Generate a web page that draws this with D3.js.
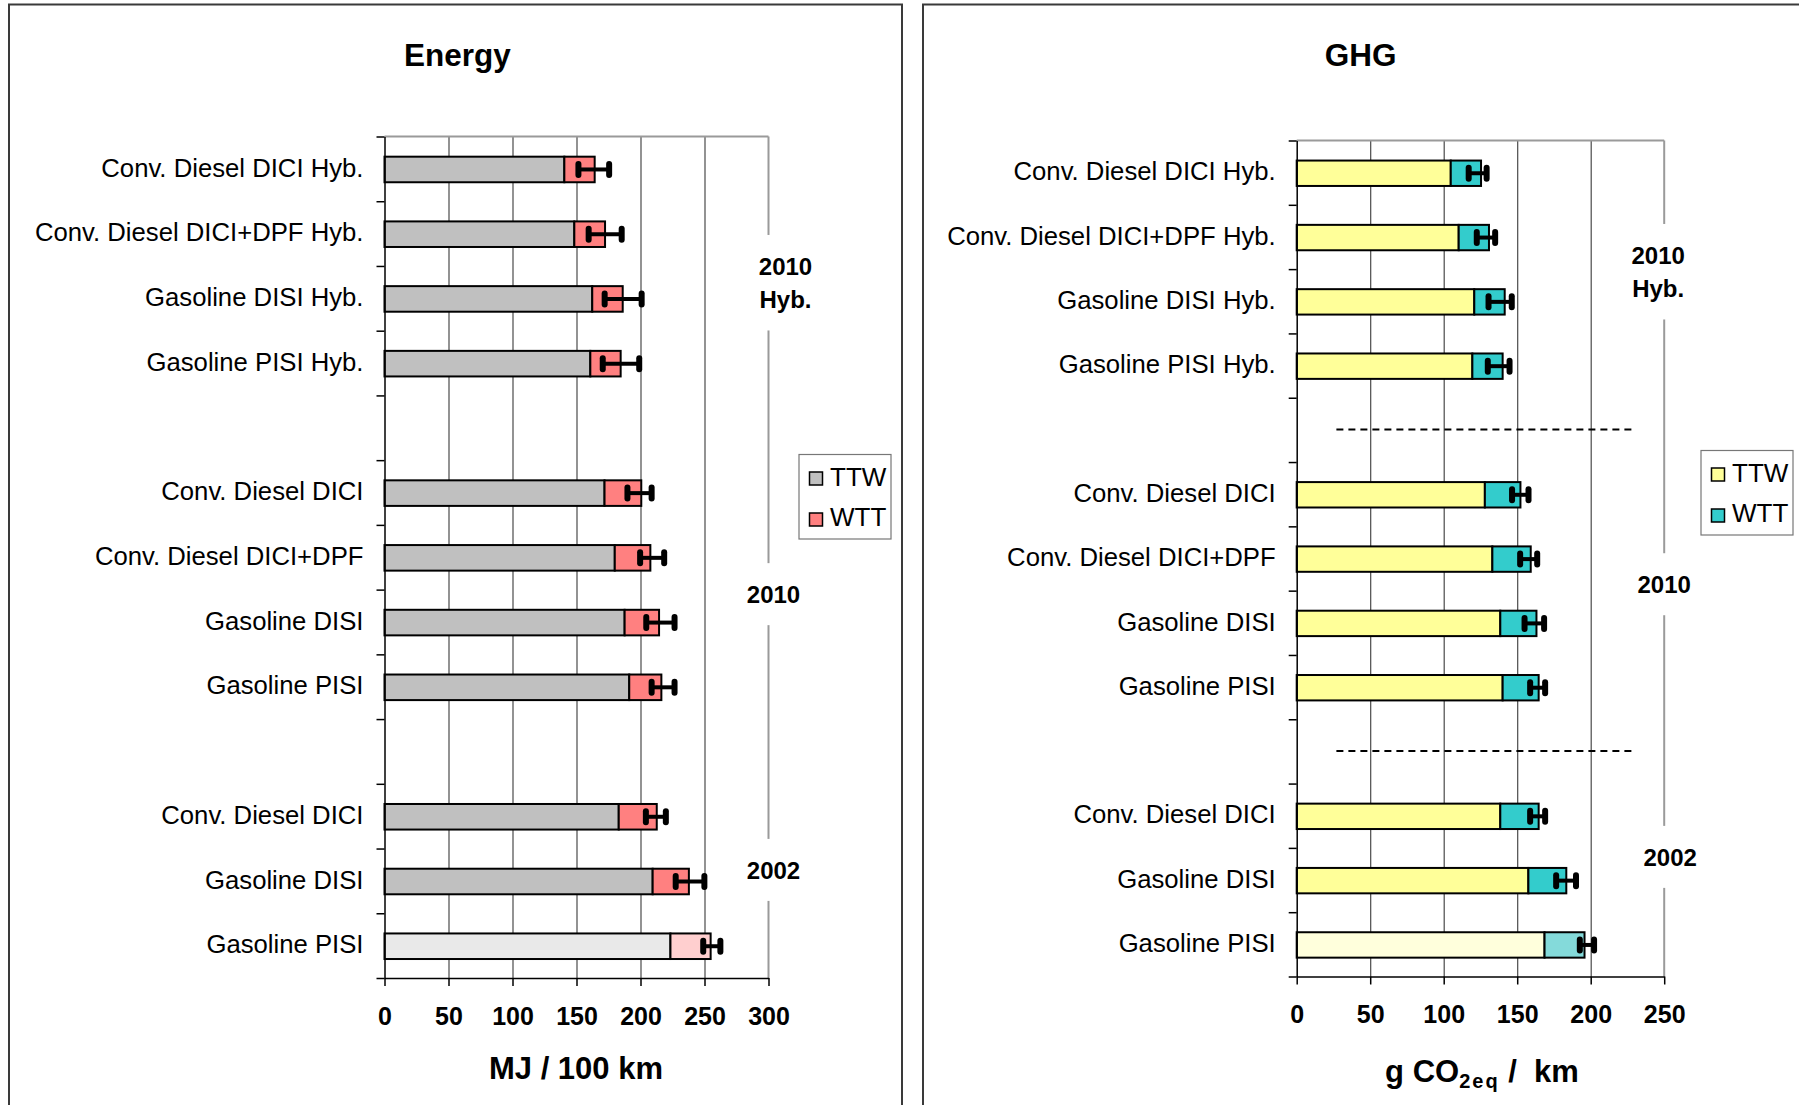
<!DOCTYPE html>
<meta charset="utf-8">
<style>
  body { margin: 0; background: #fff; }
  svg text { font-family: "Liberation Sans", Arial, sans-serif; fill: #000; }
  .cat text { font-size: 25.7px; }
  .xaxis text { font-size: 25px; font-weight: bold; }
  .title { font-size: 31.5px; font-weight: bold; }
  .xlabel { font-size: 31px; font-weight: bold; white-space: pre; }
  .group { font-size: 24px; font-weight: bold; }
  .legend text { font-size: 26px; }
</style>

<svg id="chart" width="1799" height="1105"></svg>

<script src="https://cdnjs.cloudflare.com/ajax/libs/d3/7.8.5/d3.min.js"></script>

<script>
    // rows top to bottom, "" = empty spacer row
    var categories = [
        "Conv. Diesel DICI Hyb.", "Conv. Diesel DICI+DPF Hyb.", "Gasoline DISI Hyb.", "Gasoline PISI Hyb.",
        "",
        "Conv. Diesel DICI", "Conv. Diesel DICI+DPF", "Gasoline DISI", "Gasoline PISI",
        "",
        "Conv. Diesel DICI", "Gasoline DISI", "Gasoline PISI"
    ];
    var seriesNames = ["TTW", "WTT"];
    // last row is drawn pale in the original
    var paleRow = [false, false, false, false, false, false, false, false, false, false, false, false, true];

    // Energy, MJ / 100 km
    var energyTTW  = [140.5, 148.3, 162.3, 160.8, null, 171.9, 179.9, 187.6, 191.2, null, 183.0, 209.5, 223.4];
    var energyWTT  = [ 23.7,  24.0,  23.8,  23.7, null,  28.7,  27.8,  26.9,  25.1, null,  29.7,  28.3,  31.4];
    var energyLow  = [151.5, 159.5, 172.0, 170.5, null, 189.8, 199.7, 204.5, 208.7, null, 204.2, 227.5, 249.0];
    var energyHigh = [175.5, 185.3, 200.9, 199.0, null, 208.7, 218.5, 226.6, 226.6, null, 219.8, 249.9, 262.4];
    var energyTicks = [0, 50, 100, 150, 200, 250, 300];

    // GHG, g CO2eq / km
    var ghgTTW  = [104.8, 110.2, 120.8, 119.5, null, 128.0, 133.1, 138.5, 140.1, null, 138.5, 157.6, 168.6];
    var ghgWTT  = [ 20.6,  20.6,  20.7,  20.6, null,  24.2,  26.1,  24.6,  24.5, null,  26.1,  25.8,  27.2];
    var ghgLow  = [117.0, 122.5, 130.5, 130.0, null, 146.5, 152.0, 155.0, 158.8, null, 158.8, 176.5, 192.6];
    var ghgHigh = [129.2, 135.0, 146.3, 144.8, null, 157.7, 163.6, 168.3, 169.0, null, 169.0, 190.0, 202.3];
    var ghgTicks = [0, 50, 100, 150, 200, 250];
    var ghgDashFrom = 27, ghgDashTo = 229;   // dashed separators, in g/km

    var svg = d3.select("#chart");

    // panel frames
    svg.append("rect").attr("x", 9).attr("y", 4.5).attr("width", 893).attr("height", 1200)
        .attr("fill", "none").attr("stroke", "#3a3a3a").attr("stroke-width", 2);
    svg.append("rect").attr("x", 923).attr("y", 4.5).attr("width", 893).attr("height", 1200)
        .attr("fill", "none").attr("stroke", "#3a3a3a").attr("stroke-width", 2);

    function drawPanel(cfg) {
        var g = svg.append("g");
        var n = categories.length;

        var x = d3.scaleLinear().domain([0, d3.max(cfg.ticks)]).range([cfg.left, cfg.right]);
        var yBand = d3.scaleBand().domain(d3.range(n)).range([cfg.top, cfg.bottom]);
        var yLin = d3.scaleLinear().domain([0, n]).range([cfg.top, cfg.bottom]);
        var barH = yBand.bandwidth() * 0.395;
        var barY = (i) => yBand(i) + (yBand.bandwidth() - barH) / 2 + 0.6;
        var midY = (i) => yBand(i) + yBand.bandwidth() / 2 + 0.6;

        // grid
        g.append("g")
            .attr("transform", "translate(0," + cfg.bottom + ")")
            .call(d3.axisBottom(x).tickValues(cfg.ticks.slice(1, -1)).tickSize(-(cfg.bottom - cfg.top)).tickFormat(""))
            .call(s => s.select(".domain").remove())
            .selectAll("line").attr("stroke", "#4a4a4a").attr("stroke-width", 1.2);

        // top and right frame
        g.append("line").attr("x1", cfg.left).attr("x2", cfg.right).attr("y1", cfg.top).attr("y2", cfg.top)
            .attr("stroke", "#9a9a9a").attr("stroke-width", 2);
        g.append("line").attr("x1", cfg.right).attr("x2", cfg.right).attr("y1", cfg.top).attr("y2", cfg.bottom)
            .attr("stroke", "#9a9a9a").attr("stroke-width", 2);

        // dashed separators
        if (cfg.dash) {
            categories.forEach((c, i) => {
                if (c !== "") return;
                g.append("line")
                    .attr("x1", x(cfg.dash[0])).attr("x2", x(cfg.dash[1]))
                    .attr("y1", midY(i) - 1).attr("y2", midY(i) - 1)
                    .attr("stroke", "#000").attr("stroke-width", 2)
                    .attr("stroke-dasharray", "7,5");
            });
        }

        var rows = categories.map((c, i) => ({
            i: i, ttw: cfg.ttw[i], wtt: cfg.wtt[i], lo: cfg.low[i], hi: cfg.high[i], pale: paleRow[i]
        })).filter(d => d.ttw != null);

        // stacked bars
        g.selectAll(".ttw").data(rows).enter().append("rect")
            .attr("class", "ttw")
            .attr("x", x(0))
            .attr("y", d => barY(d.i))
            .attr("width", d => x(d.ttw) - x(0))
            .attr("height", barH)
            .attr("fill", d => d.pale ? cfg.pale[0] : cfg.colors[0])
            .attr("stroke", "#000").attr("stroke-width", 2);

        g.selectAll(".wtt").data(rows).enter().append("rect")
            .attr("class", "wtt")
            .attr("x", d => x(d.ttw))
            .attr("y", d => barY(d.i))
            .attr("width", d => x(d.ttw + d.wtt) - x(d.ttw))
            .attr("height", barH)
            .attr("fill", d => d.pale ? cfg.pale[1] : cfg.colors[1])
            .attr("stroke", "#000").attr("stroke-width", 2);

        // error bars
        var err = g.selectAll(".err").data(rows).enter().append("g").attr("class", "err");
        err.append("line")
            .attr("x1", d => x(d.lo)).attr("x2", d => x(d.hi))
            .attr("y1", d => midY(d.i)).attr("y2", d => midY(d.i))
            .attr("stroke", "#000").attr("stroke-width", 4);
        ["lo", "hi"].forEach(k => {
            err.append("line")
                .attr("x1", d => x(d[k])).attr("x2", d => x(d[k]))
                .attr("y1", d => midY(d.i) - 5.5).attr("y2", d => midY(d.i) + 5.5)
                .attr("stroke", "#000").attr("stroke-width", 6).attr("stroke-linecap", "round");
        });

        // y axis: boundary ticks + category labels
        g.append("g")
            .attr("transform", "translate(" + cfg.left + ",0)")
            .call(d3.axisLeft(yLin).tickValues(d3.range(n + 1)).tickSize(8).tickSizeOuter(0).tickFormat(""))
            .call(s => s.selectAll("line, path").attr("stroke", "#000").attr("stroke-width", 1.5));

        g.append("g")
            .attr("class", "cat")
            .attr("transform", "translate(" + cfg.left + ",0)")
            .call(d3.axisLeft(yBand).tickSize(0).tickPadding(21).tickFormat(i => categories[i]))
            .call(s => s.select(".domain").remove())
            .selectAll("text").attr("font-size", null).attr("font-family", null)
            .attr("dy", "0.3em");

        // x axis
        g.append("g")
            .attr("class", "xaxis")
            .attr("transform", "translate(0," + cfg.bottom + ")")
            .call(d3.axisBottom(x).tickValues(cfg.ticks).tickSize(8).tickSizeOuter(0).tickPadding(21))
            .call(s => s.selectAll("line, path").attr("stroke", "#000").attr("stroke-width", 1.5))
            .selectAll("text").attr("font-size", null).attr("font-family", null);

        // title
        g.append("text").attr("class", "title")
            .attr("x", cfg.titleX).attr("y", 66)
            .attr("text-anchor", "middle").text(cfg.title);

        // axis label
        var xl = g.append("text").attr("class", "xlabel")
            .attr("x", cfg.xlabelX).attr("y", cfg.xlabelY)
            .attr("text-anchor", "middle");
        cfg.xlabel.forEach(part => {
            var t = xl.append("tspan").text(part.t);
            if (part.sub) t.attr("font-size", 20).attr("baseline-shift", "-6").attr("letter-spacing", 2);
        });

        // group labels over the right frame
        cfg.groups.forEach(grp => {
            var base = yLin(grp.pos) + 9;
            var cx = cfg.right + grp.dx;
            var last = base + (grp.lines.length - 1) * 33.5;
            g.append("rect")
                .attr("x", cx - 32).attr("y", base - 40)
                .attr("width", 64).attr("height", last + 22 - (base - 40))
                .attr("fill", "#fff");
            grp.lines.forEach((ln, k) => {
                g.append("text").attr("class", "group")
                    .attr("x", cx).attr("y", base + k * 33.5)
                    .attr("text-anchor", "middle").text(ln);
            });
        });

        // legend
        var lg = g.append("g").attr("class", "legend")
            .attr("transform", "translate(" + cfg.legend[0] + "," + cfg.legend[1] + ")");
        lg.append("rect").attr("width", 92).attr("height", 84.5)
            .attr("fill", "#fff").attr("stroke", "#777").attr("stroke-width", 1.2);
        seriesNames.forEach((s, k) => {
            lg.append("rect")
                .attr("x", 10.5).attr("y", 17.5 + k * 41)
                .attr("width", 13).attr("height", 13)
                .attr("fill", cfg.colors[k]).attr("stroke", "#000").attr("stroke-width", 1.5);
            lg.append("text").attr("x", 31).attr("y", 31 + k * 40.5).text(s);
        });
    }

    drawPanel({
        title: "Energy", titleX: 457.5,
        xlabel: [{t: "MJ / 100 km"}], xlabelX: 576, xlabelY: 1079,
        left: 384.5, right: 768.5, top: 136.5, bottom: 978,
        ticks: energyTicks,
        ttw: energyTTW, wtt: energyWTT, low: energyLow, high: energyHigh,
        colors: ["#c0c0c0", "#ff8080"], pale: ["#e9e9e9", "#ffcfcf"],
        groups: [
            {lines: ["2010", "Hyb."], pos: 2.0, dx: 17},
            {lines: ["2010"], pos: 7.07, dx: 5},
            {lines: ["2002"], pos: 11.33, dx: 5}
        ],
        legend: [799, 454.5]
    });

    drawPanel({
        title: "GHG", titleX: 1360.7,
        xlabel: [{t: "g CO"}, {t: "2eq", sub: true}, {t: " /  km"}], xlabelX: 1482, xlabelY: 1082,
        left: 1296.7, right: 1664.2, top: 140.5, bottom: 976.5,
        ticks: ghgTicks,
        ttw: ghgTTW, wtt: ghgWTT, low: ghgLow, high: ghgHigh,
        colors: ["#ffff99", "#33cccc"], pale: ["#ffffdc", "#84dada"],
        dash: [ghgDashFrom, ghgDashTo],
        groups: [
            {lines: ["2010", "Hyb."], pos: 1.78, dx: -6},
            {lines: ["2010"], pos: 6.9, dx: 0},
            {lines: ["2002"], pos: 11.14, dx: 6}
        ],
        legend: [1701, 450.5]
    });
</script>
